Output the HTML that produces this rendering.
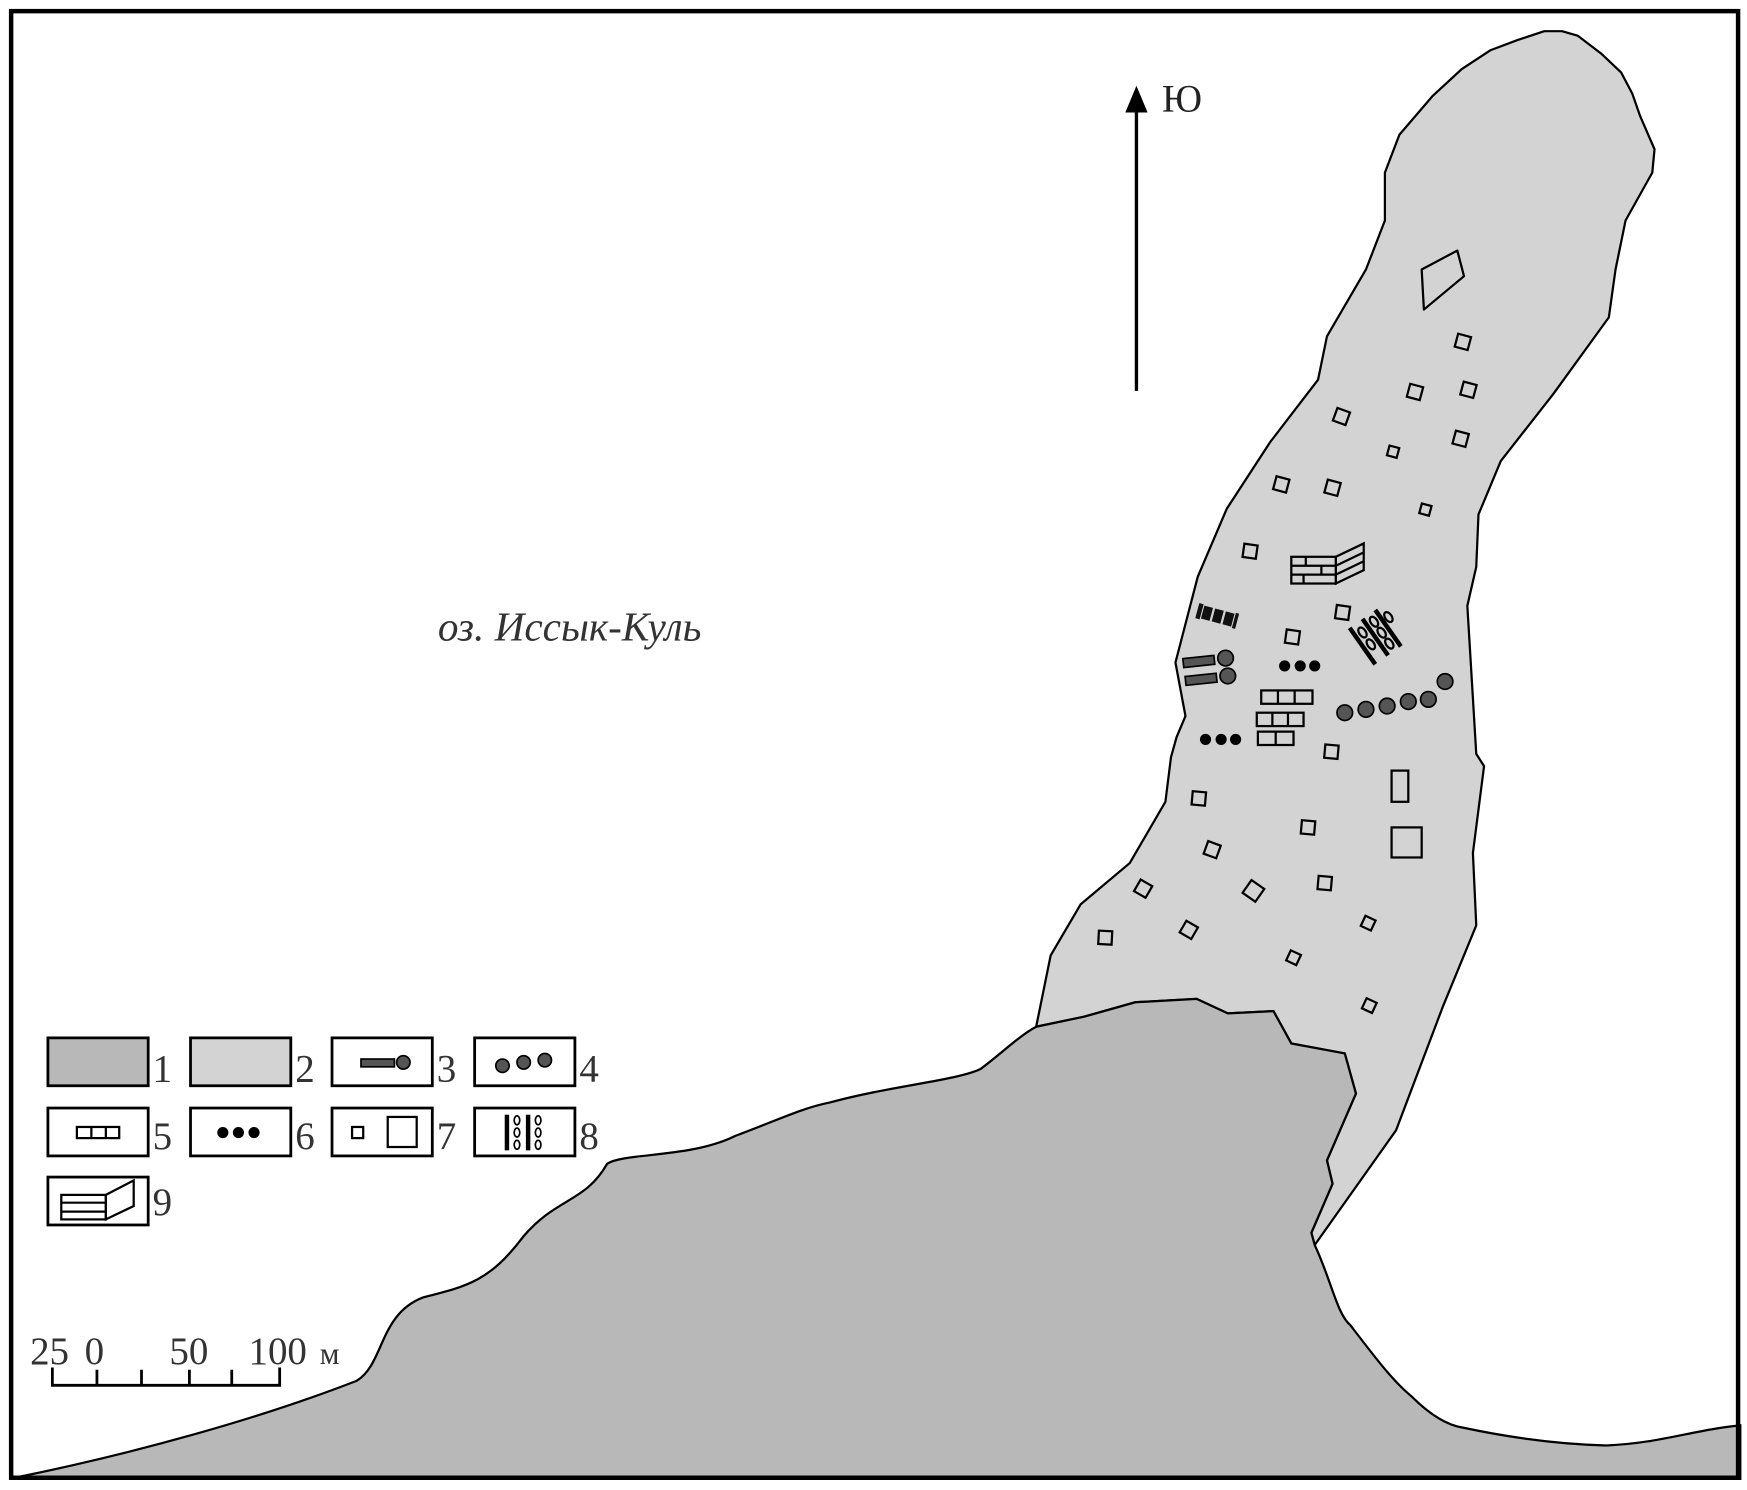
<!DOCTYPE html>
<html><head><meta charset="utf-8"><style>html,body{margin:0;padding:0;background:#fff}svg{display:block}</style></head>
<body>
<svg width="1747" height="1490" viewBox="0 0 1568 1338" preserveAspectRatio="none" xmlns="http://www.w3.org/2000/svg" font-family="Liberation Serif, serif">
<rect x="0" y="0" width="1568" height="1338" fill="#fff"/>
<!-- light peninsula -->
<path d="M930,922 L943,858 L970,812 L1014,775 L1046,720 L1051,680 L1056,662 L1064,643 L1055,595 L1075,518 L1101,457 L1140,397 L1183,341 L1191,302 L1226,242 L1243,198 L1243,155 L1256,121 L1286,86 L1312,62 L1338,45 L1362,36 L1386,28 L1402,28 L1416,32 L1437,48 L1455,65 L1465,84 L1472,104 L1485,134 L1483,155 L1459,198 L1450,242 L1444,285 L1394,354 L1347,414 L1327,462 L1325,509 L1317,544 L1325,677 L1332,688 L1322,766 L1325,831 L1295,904 L1253,1015 L1180,1118 L1177,1107 L1196,1063 L1191,1042 L1217,982 L1207,946 L1159,937 L1143,908 L1102,910 L1074,897 L1019,900 L973,913 Z" fill="#d3d3d3" stroke="#000" stroke-width="2" stroke-linejoin="round"/>
<!-- dark land -->
<path d="M18,1326 C120,1305 230,1275 320,1240 C345,1225 340,1180 380,1165 C420,1155 440,1150 470,1110 C500,1075 525,1080 545,1045 C560,1035 620,1040 660,1020 C700,1005 720,995 745,990 C800,975 860,970 880,960 C900,945 915,930 930,922 L973,913 L1019,900 L1074,897 L1102,910 L1143,908 L1159,937 L1207,946 L1217,982 L1191,1042 L1196,1063 L1177,1107 L1180,1118 C1195,1150 1200,1180 1212,1190 C1235,1220 1250,1240 1267,1254 C1285,1272 1300,1280 1313,1282 C1360,1292 1400,1297 1442,1298 C1490,1296 1520,1284 1562,1280 L1562,1328 L18,1328 Z" fill="#b8b8b8" stroke="#000" stroke-width="2"/>
<!-- frame -->
<rect x="10" y="10" width="1550" height="1317" fill="none" stroke="#000" stroke-width="4"/>
<!-- inner blob -->
<path d="M1276,242 L1308,225 L1314,248 L1278,278 Z" fill="#d3d3d3" stroke="#000" stroke-width="2" stroke-linejoin="round"/>
<!-- arrow -->
<line x1="1020" y1="351" x2="1020" y2="96" stroke="#000" stroke-width="3"/>
<polygon points="1020,77 1010,101 1030,101" fill="#000"/>
<text x="1043" y="100" font-size="35" fill="#222">Ю</text>
<text x="393" y="575" font-size="37" font-style="italic" fill="#333">оз. Иссык-Куль</text>
<!-- small squares -->
<g fill="none" stroke="#000" stroke-width="2">
<rect x="-6" y="-6" width="12" height="12" transform="translate(1313,307) rotate(15)"/>
<rect x="-6" y="-6" width="12" height="12" transform="translate(1270,352) rotate(15)"/>
<rect x="-6" y="-6" width="12" height="12" transform="translate(1318,350) rotate(15)"/>
<rect x="-6" y="-6" width="12" height="12" transform="translate(1204,374) rotate(20)"/>
<rect x="-4" y="-4" width="9" height="9" transform="translate(1250,405) rotate(15)"/>
<rect x="-6" y="-6" width="12" height="12" transform="translate(1311,394) rotate(15)"/>
<rect x="-6" y="-6" width="12" height="12" transform="translate(1150,435) rotate(15)"/>
<rect x="-6" y="-6" width="12" height="12" transform="translate(1196,438) rotate(15)"/>
<rect x="-4" y="-4" width="9" height="9" transform="translate(1279,457) rotate(15)"/>
<rect x="-6" y="-6" width="12" height="12" transform="translate(1122,495) rotate(8)"/>
<rect x="-6" y="-6" width="12" height="12" transform="translate(1205,550) rotate(8)"/>
<rect x="-6" y="-6" width="12" height="12" transform="translate(1160,572) rotate(8)"/>
<rect x="-6" y="-6" width="12" height="12" transform="translate(1195,675) rotate(5)"/>
<rect x="-6" y="-6" width="12" height="12" transform="translate(1076,717) rotate(5)"/>
<rect x="-6" y="-6" width="12" height="12" transform="translate(1174,743) rotate(5)"/>
<rect x="-6" y="-6" width="12" height="12" transform="translate(1088,763) rotate(20)"/>
<rect x="-6" y="-6" width="12" height="12" transform="translate(1026,798) rotate(30)"/>
<rect x="-7" y="-7" width="14" height="14" transform="translate(1125,800) rotate(35)"/>
<rect x="-6" y="-6" width="12" height="12" transform="translate(1189,793) rotate(5)"/>
<rect x="-5" y="-5" width="10" height="10" transform="translate(1228,829) rotate(25)"/>
<rect x="-6" y="-6" width="12" height="12" transform="translate(992,842) rotate(3)"/>
<rect x="-6" y="-6" width="12" height="12" transform="translate(1067,835) rotate(30)"/>
<rect x="-5" y="-5" width="10" height="10" transform="translate(1161,860) rotate(25)"/>
<rect x="-5" y="-5" width="10" height="10" transform="translate(1229,903) rotate(25)"/>
<rect x="1249" y="692" width="15" height="28"/>
<rect x="1249" y="743" width="27" height="27"/>
</g>
<!-- brick wall 9 -->
<g fill="none" stroke="#000" stroke-width="2">
<rect x="1159" y="500" width="40" height="24"/>
<line x1="1159" y1="508" x2="1199" y2="508"/><line x1="1159" y1="516" x2="1199" y2="516"/>
<line x1="1172" y1="500" x2="1172" y2="508"/><line x1="1186" y1="508" x2="1186" y2="516"/><line x1="1170" y1="516" x2="1170" y2="524"/>
<polygon points="1199,500 1224,488 1224,512 1199,524"/>
<line x1="1199" y1="508" x2="1224" y2="496"/><line x1="1199" y1="516" x2="1224" y2="504"/>
</g>
<!-- 8 object -->
<g transform="translate(1236,571) rotate(-35)" stroke="#000" fill="none" stroke-width="2">
<line x1="-16" y1="-20" x2="-16" y2="20" stroke-width="4"/>
<line x1="-2" y1="-20" x2="-2" y2="20" stroke-width="4"/>
<line x1="12" y1="-20" x2="12" y2="20" stroke-width="4"/>
<ellipse cx="-9" cy="-10" rx="3" ry="5"/><ellipse cx="-9" cy="3" rx="3" ry="5"/>
<ellipse cx="5" cy="-12" rx="3" ry="5"/><ellipse cx="5" cy="0" rx="3" ry="5"/><ellipse cx="5" cy="12" rx="3" ry="5"/>
<ellipse cx="18" cy="-8" rx="3" ry="5"/>
</g>
<!-- dark glyph -->
<g transform="translate(1092,553) rotate(15)" fill="#111">
<rect x="-18" y="-7" width="4" height="14"/><rect x="-13" y="-6" width="8" height="12"/><rect x="-3" y="-6" width="8" height="12"/><rect x="7" y="-6" width="8" height="12"/><rect x="16" y="-7" width="3" height="14"/>
</g>
<!-- 3 -->
<g fill="#555" stroke="#000" stroke-width="1.5">
<rect x="1062" y="590" width="28" height="8" transform="rotate(-6 1076 594)"/>
<rect x="1064" y="606" width="28" height="8" transform="rotate(-6 1078 610)"/>
<circle cx="1100" cy="591" r="7"/><circle cx="1102" cy="607" r="7"/>
<circle cx="1207" cy="640" r="7"/><circle cx="1226" cy="637" r="7"/><circle cx="1245" cy="634" r="7"/><circle cx="1264" cy="630" r="7"/><circle cx="1282" cy="628" r="7"/><circle cx="1297" cy="612" r="7"/>
</g>
<g fill="#000">
<circle cx="1153" cy="598" r="5"/><circle cx="1167" cy="598" r="5"/><circle cx="1180" cy="598" r="5"/>
<circle cx="1082" cy="664" r="5"/><circle cx="1096" cy="664" r="5"/><circle cx="1109" cy="664" r="5"/>
</g>
<g fill="none" stroke="#000" stroke-width="2">
<rect x="1132" y="620" width="46" height="12"/><line x1="1147" y1="620" x2="1147" y2="632"/><line x1="1162" y1="620" x2="1162" y2="632"/>
<rect x="1128" y="640" width="42" height="12"/><line x1="1142" y1="640" x2="1142" y2="652"/><line x1="1156" y1="640" x2="1156" y2="652"/>
<rect x="1129" y="657" width="32" height="12"/><line x1="1145" y1="657" x2="1145" y2="669"/>
</g>
<!-- legend -->
<g stroke="#000" stroke-width="2.5">
<rect x="43" y="932" width="90" height="43" fill="#b8b8b8"/>
<rect x="171" y="932" width="90" height="43" fill="#d3d3d3"/>
<rect x="298" y="932" width="90" height="43" fill="#fff"/>
<rect x="426" y="932" width="90" height="43" fill="#fff"/>
<rect x="43" y="995" width="90" height="43" fill="#fff"/>
<rect x="171" y="995" width="90" height="43" fill="#fff"/>
<rect x="298" y="995" width="90" height="43" fill="#fff"/>
<rect x="426" y="995" width="90" height="43" fill="#fff"/>
<rect x="43" y="1057" width="90" height="43" fill="#fff"/>
</g>
<g fill="#555" stroke="#000" stroke-width="1.5">
<rect x="324" y="951" width="30" height="7"/><circle cx="362" cy="954" r="6"/>
<circle cx="451" cy="957" r="6"/><circle cx="470" cy="954" r="6"/><circle cx="489" cy="952" r="6"/>
</g>
<g fill="none" stroke="#000" stroke-width="2">
<rect x="69" y="1012" width="38" height="10"/><line x1="82" y1="1012" x2="82" y2="1022"/><line x1="95" y1="1012" x2="95" y2="1022"/>
<rect x="316" y="1012" width="10" height="10"/><rect x="348" y="1003" width="26" height="27"/>
<rect x="55" y="1073" width="40" height="22"/><line x1="55" y1="1080" x2="95" y2="1080"/><line x1="55" y1="1088" x2="95" y2="1088"/>
<polygon points="95,1073 120,1060 120,1083 95,1095"/>
</g>
<g fill="#000">
<circle cx="200" cy="1017" r="5"/><circle cx="214" cy="1017" r="5"/><circle cx="228" cy="1017" r="5"/>
<rect x="453" y="1001" width="4" height="32"/><rect x="472" y="1001" width="4" height="32"/>
</g>
<g fill="none" stroke="#000" stroke-width="1.5">
<ellipse cx="464" cy="1006" rx="2.5" ry="4"/><ellipse cx="464" cy="1017" rx="2.5" ry="4"/><ellipse cx="464" cy="1028" rx="2.5" ry="4"/>
<ellipse cx="483" cy="1006" rx="2.5" ry="4"/><ellipse cx="483" cy="1017" rx="2.5" ry="4"/><ellipse cx="483" cy="1028" rx="2.5" ry="4"/>
</g>
<g font-size="35" fill="#333">
<text x="137" y="971">1</text><text x="265" y="971">2</text><text x="392" y="971">3</text><text x="520" y="971">4</text>
<text x="137" y="1032">5</text><text x="265" y="1032">6</text><text x="392" y="1032">7</text><text x="520" y="1032">8</text>
<text x="137" y="1091">9</text>
</g>
<!-- scale -->
<g stroke="#000" stroke-width="2.5" fill="none">
<polyline points="47,1228 47,1244 251,1244 251,1228"/>
<line x1="87" y1="1230" x2="87" y2="1244"/><line x1="127" y1="1230" x2="127" y2="1244"/><line x1="170" y1="1230" x2="170" y2="1244"/><line x1="208" y1="1230" x2="208" y2="1244"/>
</g>
<g font-size="35" fill="#333">
<text x="27" y="1225">25</text><text x="76" y="1225">0</text><text x="152" y="1225">50</text><text x="223" y="1225">100</text><text x="287" y="1225" font-size="28">м</text>
</g>
</svg>
</body></html>
